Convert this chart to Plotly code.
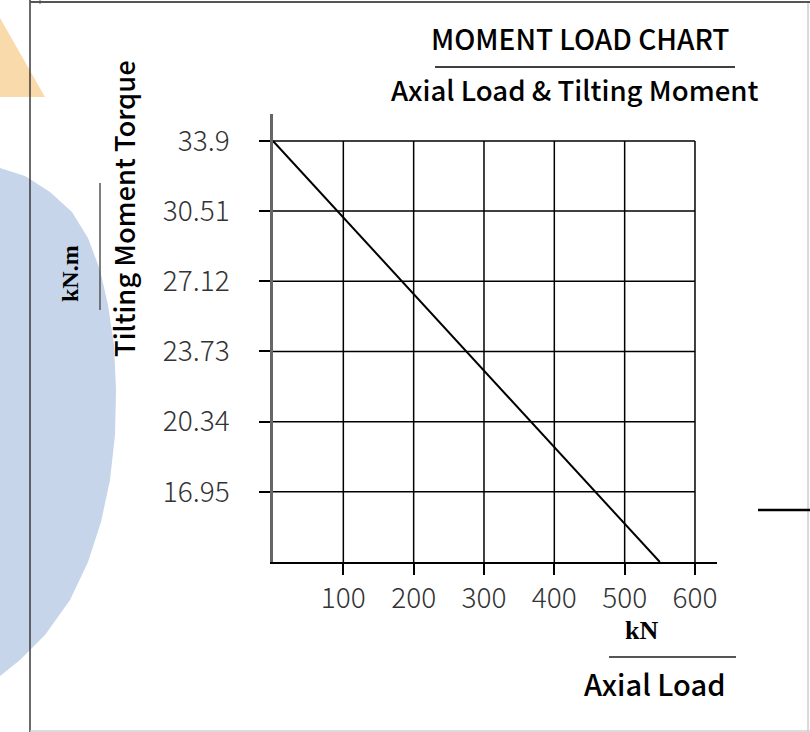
import plotly.graph_objects as go

# ---- data ----
axial_load = [0, 550]            # kN
tilting_moment = [33.9, 13.56]   # kN.m
x_ticks = [100, 200, 300, 400, 500, 600]
x_tick_labels = ["100", "200", "300", "400", "500", "600"]
y_ticks = [16.95, 20.34, 23.73, 27.12, 30.51, 33.9]
y_tick_labels = ["16.95", "20.34", "23.73", "27.12", "30.51", "33.9"]
y_origin = 13.56

W, H = 810, 732


def px(x):
    return x / W


def py(y):
    return 1 - y / H


NARROW = "Noto Sans CJK SC, DejaVu Sans Condensed, sans-serif"
SERIF = "Liberation Serif, DejaVu Serif, serif"

fig = go.Figure()
fig.add_trace(go.Scatter(x=axial_load, y=tilting_moment, mode="lines",
                         line=dict(color="black", width=2), hoverinfo="skip",
                         showlegend=False))

shapes = []


def path_from(points):
    return "M " + " L ".join(f"{px(a):.5f},{py(b):.5f}" for a, b in points) + " Z"


blue_pts = [(0, 168), (25, 176), (50, 192), (72, 212), (88, 238), (100, 270), (108, 305),
            (114, 345), (116, 390), (115, 435), (110, 480), (101, 522), (88, 562),
            (70, 600), (45, 635), (20, 660), (0, 676)]
shapes.append(dict(type="path", xref="paper", yref="paper", path=path_from(blue_pts),
                   fillcolor="rgb(198,213,233)", line=dict(width=0), layer="below"))
orange_pts = [(0, 18), (45, 97), (0, 97)]
shapes.append(dict(type="path", xref="paper", yref="paper", path=path_from(orange_pts),
                   fillcolor="rgb(249,218,170)", line=dict(width=0), layer="below"))

# grid box (from tick arrays)
for yv in y_ticks:
    shapes.append(dict(type="line", xref="x", yref="y", x0=0, x1=max(x_ticks), y0=yv, y1=yv,
                       line=dict(color="black", width=1.5)))
for xv in x_ticks:
    shapes.append(dict(type="line", xref="x", yref="y", x0=xv, x1=xv, y0=y_origin, y1=max(y_ticks),
                       line=dict(color="black", width=1.5)))


def pline(x0, y0, x1, y1, color, width):
    shapes.append(dict(type="line", xref="paper", yref="paper", x0=px(x0), y0=py(y0),
                       x1=px(x1), y1=py(y1), line=dict(color=color, width=width)))


# frame and decorative lines
pline(30, 0, 30, 732, "#3a3a3a", 1.5)
pline(30, 2, 810, 2, "#555555", 2)
pline(40, 0, 40, 4, "#555555", 1)
pline(808, 3, 808, 732, "#cccccc", 1.5)
pline(30, 731, 810, 731, "#d0d0d0", 1.5)
pline(758, 510, 810, 510, "black", 2.5)
# title underline
pline(435, 67, 735, 67, "black", 1.5)
# unit separators
pline(609, 657, 736, 657, "#555555", 2)
pline(100, 183, 100, 310, "#555555", 1.5)

TITLE_W = 500
annotations = [
    dict(text="MOMENT LOAD CHART", x=px(580), y=py(38), xref="paper", yref="paper",
         showarrow=False, font=dict(family=NARROW, size=28, color="black", weight=TITLE_W),
         xanchor="center", yanchor="middle"),
    dict(text="Axial Load &amp; Tilting Moment", x=px(574), y=py(89), xref="paper", yref="paper",
         showarrow=False, font=dict(family=NARROW, size=27.6, color="black", weight=TITLE_W),
         xanchor="center", yanchor="middle"),
    dict(text="Axial Load", x=px(654), y=py(683), xref="paper", yref="paper",
         showarrow=False, font=dict(family=NARROW, size=29, color="black", weight=TITLE_W),
         xanchor="center", yanchor="middle"),
    dict(text="<b>kN</b>", x=px(641), y=py(630), xref="paper", yref="paper",
         showarrow=False, font=dict(family=SERIF, size=26, color="black"),
         xanchor="center", yanchor="middle"),
    dict(text="Tilting Moment Torque", x=px(123), y=py(209), xref="paper", yref="paper",
         showarrow=False, textangle=-90,
         font=dict(family=NARROW, size=27.3, color="black", weight=TITLE_W),
         xanchor="center", yanchor="middle"),
    dict(text="<b>kN.m</b>", x=px(70), y=py(274), xref="paper", yref="paper",
         showarrow=False, textangle=-90, font=dict(family=SERIF, size=24, color="black"),
         xanchor="center", yanchor="middle"),
]

fig.update_layout(
    width=W, height=H,
    margin=dict(l=0, r=0, t=0, b=0),
    paper_bgcolor="white", plot_bgcolor="rgba(0,0,0,0)",
    shapes=shapes, annotations=annotations, showlegend=False,
    xaxis=dict(domain=[px(273), px(717)], range=[0, 631.3],
               tickmode="array", tickvals=x_ticks, ticktext=x_tick_labels,
               ticks="outside", ticklen=11, tickwidth=1.5, tickcolor="black",
               showline=True, linecolor="black", linewidth=1.5,
               showgrid=False, zeroline=False,
               tickfont=dict(family=NARROW, size=28, color="#333333", weight=300)),
    yaxis=dict(domain=[py(562), py(114)], range=[y_origin, 35.2],
               tickmode="array", tickvals=y_ticks, ticktext=y_tick_labels,
               ticks="outside", ticklen=11, tickwidth=1.5, tickcolor="black",
               showline=True, linecolor="#666666", linewidth=2.5,
               showgrid=False, zeroline=False, ticklabelstandoff=24,
               tickfont=dict(family=NARROW, size=28, color="#333333", weight=300)),
)

fig.write_html("out.html", config={"displayModeBar": False},
               post_script="document.body.style.margin='0';")
